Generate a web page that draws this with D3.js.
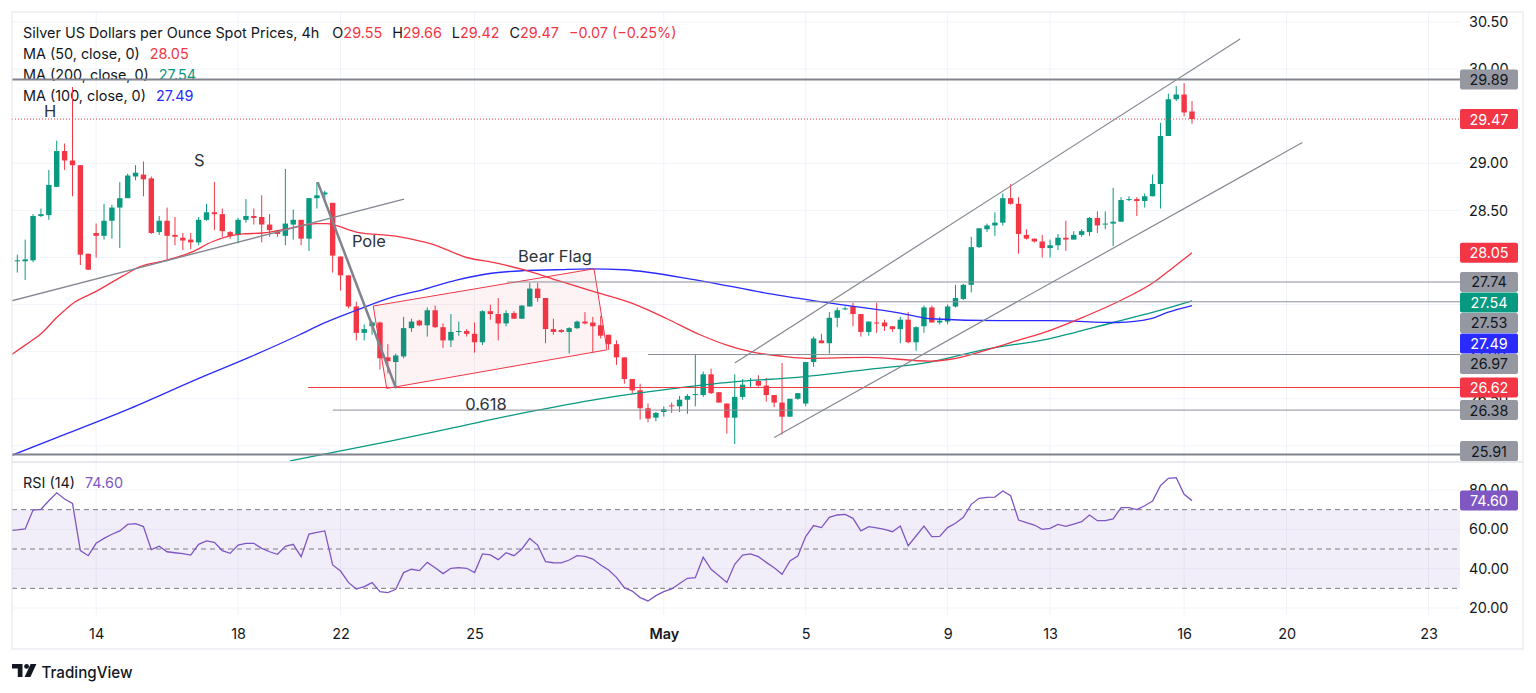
<!DOCTYPE html>
<html>
<head>
<meta charset="utf-8">
<script src="https://cdn.jsdelivr.net/npm/d3@7"></script>
<style>
  body { margin: 0; background: #fff; }
  svg { display: block; font-family: Inter, "Noto Sans", sans-serif; }
</style>
</head>
<body>
<div id="chart"></div>
<script>
// ---- data (4h bars) ----
var firstBar = -1;   // first candle is partly hidden behind the left edge

// [open, high, low, close]
var candles = [
  [28.00,28.03,27.93,27.97],
  [27.96,28.03,27.84,27.97],[27.96,28.19,27.76,27.98],[27.97,28.46,27.95,28.44],[28.44,28.52,28.43,28.46],[28.45,28.93,28.40,28.77],
  [28.75,29.24,28.75,29.13],[29.13,29.21,28.93,29.03],[29.03,29.81,28.65,28.98],[28.98,28.98,27.92,28.03],[28.04,28.04,27.87,27.87],
  [28.26,28.36,28.00,28.23],[28.23,28.57,28.19,28.39],[28.39,28.56,28.20,28.53],[28.53,28.80,28.10,28.63],[28.63,28.89,28.63,28.87],
  [28.86,28.98,28.82,28.90],[28.88,29.02,28.65,28.83],[28.84,28.86,28.25,28.26],[28.27,28.44,28.24,28.39],[28.39,28.53,27.96,28.23],
  [28.24,28.43,28.13,28.22],[28.21,28.26,28.08,28.18],[28.19,28.26,28.09,28.16],[28.16,28.43,28.13,28.40],[28.40,28.57,28.39,28.48],
  [28.48,28.80,28.29,28.46],[28.46,28.52,28.22,28.28],[28.27,28.28,28.20,28.23],[28.24,28.42,28.15,28.40],[28.40,28.62,28.37,28.44],
  [28.44,28.52,28.35,28.42],[28.43,28.66,28.16,28.35],[28.35,28.46,28.22,28.29],[28.28,28.29,28.22,28.25],[28.23,28.94,28.13,28.36],
  [28.35,28.51,28.19,28.40],[28.40,28.40,28.13,28.20],[28.20,28.63,28.07,28.63],[28.63,28.80,28.52,28.66],[28.67,28.71,28.60,28.69],
  [28.58,28.58,27.84,28.02],[28.01,28.01,27.65,27.81],[27.81,27.81,27.46,27.48],[27.48,27.53,27.12,27.20],[27.20,27.29,27.12,27.24],
  [27.27,27.32,27.18,27.31],[27.31,27.32,26.81,26.93],[26.94,27.08,26.77,26.90],[26.89,26.98,26.61,26.96],[26.95,27.37,26.93,27.25],
  [27.25,27.35,27.21,27.32],[27.33,27.34,27.27,27.28],[27.28,27.47,27.16,27.44],[27.44,27.49,27.25,27.26],[27.26,27.30,27.04,27.12],
  [27.12,27.40,27.05,27.21],[27.21,27.32,27.17,27.22],[27.22,27.24,27.16,27.19],[27.19,27.31,26.99,27.10],[27.10,27.44,27.07,27.43],
  [27.43,27.50,27.34,27.40],[27.40,27.57,27.12,27.30],[27.30,27.44,27.27,27.41],[27.41,27.43,27.35,27.35],[27.35,27.49,27.35,27.49],
  [27.48,27.73,27.48,27.67],[27.67,27.73,27.53,27.57],[27.57,27.57,27.09,27.24],[27.24,27.35,27.18,27.21],[27.23,27.24,27.20,27.21],
  [27.21,27.26,26.98,27.25],[27.25,27.33,27.24,27.32],[27.32,27.42,27.29,27.30],[27.31,27.37,26.99,27.27],[27.28,27.38,27.14,27.17],
  [27.18,27.18,27.02,27.08],[27.08,27.12,26.86,26.94],[26.94,26.94,26.66,26.71],[26.71,26.71,26.55,26.59],[26.59,26.66,26.28,26.40],
  [26.40,26.45,26.25,26.29],[26.30,26.36,26.26,26.35],[26.36,26.42,26.31,26.39],[26.43,26.46,26.35,26.42],[26.42,26.53,26.36,26.49],
  [26.49,26.55,26.34,26.53],[26.54,26.97,26.42,26.55],[26.54,26.79,26.52,26.76],[26.76,26.82,26.55,26.56],[26.57,26.57,26.46,26.46],
  [26.45,26.45,26.13,26.30],[26.30,26.76,26.02,26.52],[26.52,26.71,26.49,26.65],[26.69,26.72,26.62,26.70],[26.69,26.75,26.63,26.64],
  [26.64,26.72,26.47,26.54],[26.54,26.54,26.41,26.46],[26.46,26.88,26.12,26.31],[26.31,26.50,26.31,26.50],[26.50,26.56,26.49,26.56],
  [26.45,26.89,26.42,26.89],[26.89,27.16,26.84,27.14],[27.12,27.19,27.09,27.09],[27.09,27.42,26.98,27.36],[27.36,27.47,27.26,27.44],
  [27.45,27.48,27.44,27.46],[27.48,27.52,27.27,27.40],[27.40,27.40,27.16,27.21],[27.21,27.32,27.17,27.32],[27.31,27.52,27.20,27.30],
  [27.31,27.34,27.22,27.27],[27.27,27.27,27.21,27.24],[27.24,27.37,27.09,27.34],[27.34,27.42,27.09,27.10],[27.10,27.27,27.01,27.26],
  [27.27,27.49,27.20,27.47],[27.47,27.49,27.31,27.31],[27.31,27.37,27.29,27.33],[27.32,27.50,27.29,27.48],[27.48,27.71,27.47,27.57],
  [27.56,27.72,27.55,27.71],[27.71,28.22,27.63,28.11],[28.11,28.31,28.10,28.31],[28.30,28.36,28.27,28.34],[28.34,28.48,28.23,28.37],
  [28.37,28.68,28.34,28.63],[28.63,28.78,28.56,28.57],[28.57,28.64,28.04,28.25],[28.24,28.30,28.19,28.20],[28.20,28.20,28.16,28.17],
  [28.17,28.24,28.00,28.10],[28.10,28.19,28.00,28.13],[28.13,28.25,28.08,28.21],[28.21,28.39,28.07,28.19],[28.19,28.28,28.19,28.24],
  [28.24,28.30,28.22,28.28],[28.27,28.43,28.23,28.42],[28.42,28.49,28.26,28.34],[28.36,28.49,28.30,28.36],[28.36,28.74,28.12,28.38],
  [28.38,28.64,28.38,28.61],[28.61,28.65,28.60,28.62],[28.62,28.64,28.44,28.60],[28.60,28.68,28.53,28.65],[28.65,28.88,28.65,28.78],
  [28.78,29.43,28.52,29.29],[29.29,29.74,29.29,29.68],[29.68,29.82,29.66,29.73],[29.73,29.85,29.50,29.54],[29.55,29.66,29.42,29.47]
];

// RSI(14), one value per candle
var rsiValues = [
  59.3,
  59.7,60.2,69.8,70.2,74.5,78.6,75.4,73.2,49.2,46.6,
  52.9,55.4,57.5,59.2,62.5,62.9,61.4,49.7,51.4,48.6,
  48.1,47.6,46.9,52.4,54.1,53.4,49.2,47.8,52.0,52.9,
  52.9,50.3,48.6,47.3,51.4,52.4,46.1,57.6,58.5,59.2,
  41.9,38.8,33.0,29.6,30.9,32.9,28.3,27.8,29.5,38.0,
  39.7,39.0,43.2,40.5,37.5,40.2,40.5,40.2,38.0,47.5,
  47.0,44.6,48.1,46.6,50.0,55.4,52.0,43.6,43.0,42.9,
  44.4,46.6,46.3,44.9,41.9,39.3,35.6,30.3,28.6,25.3,
  23.6,26.3,28.3,29.7,32.5,35.1,35.4,45.8,39.7,36.4,
  33.0,42.2,46.9,47.5,46.1,43.2,40.5,37.1,43.9,46.4,
  56.3,61.9,60.9,66.1,67.3,67.6,65.6,59.2,61.4,60.7,
  60.0,58.8,61.7,51.7,56.6,61.7,56.3,56.4,60.9,63.1,
  66.1,72.7,75.8,76.3,76.4,79.5,77.1,64.7,63.4,62.2,
  60.0,60.5,62.5,61.5,62.7,63.9,67.3,64.4,64.4,65.3,
  71.0,71.0,70.0,72.0,74.4,82.2,85.9,86.3,77.8,74.6
];

// moving averages, [bar, value]
var ma50 = [[-0.7,26.97],[1,27.07],[3,27.19],[5.1,27.37],[7,27.51],[10,27.64],[13.3,27.80],[15.5,27.90],[18.9,27.97],
  [22.2,28.06],[24.8,28.17],[28.6,28.25],[31.1,28.26],[34.5,28.31],[37.9,28.36],[39.2,28.36],[43,28.27],[48.5,28.22],
  [52.7,28.14],[57,28.00],[60.8,27.94],[64.2,27.87],[68.4,27.76],[72.6,27.65],[78.1,27.51],[82.4,27.35],[86.6,27.18],
  [90,27.07],[93,27.00],[97.2,26.95],[100.2,26.93],[107.8,26.94],[115.8,26.90],[118.4,26.92],[123,27.02],[126.9,27.12],
  [131.1,27.23],[135.3,27.37],[139.6,27.53],[144.2,27.74],[146.7,27.90],[149,28.05]];
var ma100 = [[-0.7,25.90],[6.6,26.14],[13.8,26.38],[23.1,26.72],[29.4,26.94],[35.8,27.18],[38.8,27.30],[43,27.44],
  [47.2,27.57],[51.5,27.66],[55.7,27.76],[59.9,27.83],[64.2,27.86],[68.4,27.87],[72.6,27.88],[76.9,27.87],[86.2,27.76],
  [95.1,27.62],[103.6,27.51],[112,27.41],[115.8,27.35],[124.7,27.33],[131.1,27.33],[139.6,27.31],[143.8,27.35],
  [146,27.42],[149,27.49]];
var ma200 = [[34.6,25.84],[47.3,26.05],[55.7,26.20],[64.2,26.35],[73.9,26.50],[82.4,26.60],[90.8,26.68],[99.3,26.73],
  [107.7,26.81],[115.8,26.89],[122.5,27.02],[131,27.14],[139,27.31],[144.1,27.42],[149,27.54]];

// time axis
var tickBars   = [10, 28, 41, 58, 82, 100, 118, 131, 148, 161, 179];
var tickLabels = ["14", "18", "22", "25", "May", "5", "9", "13", "16", "20", "23"];
var priceTicks = [30.5, 30, 29.5, 29, 28.5, 28, 27.5, 27, 26.5, 26];
var rsiTicks = [80, 60, 40, 20];
var rsiBands = [70, 50, 30];

// drawings on the chart
var levelPrices = [29.89, 27.74, 27.53, 26.97, 26.38, 25.91];
var levelFrom   = [-1, 62.1, 100, 80, 40, -1];
var supportPrice = 26.62, supportFrom = 36.9;
var neckline = [[-0.7, 27.54], [49.05, 28.62]];
var pole = [[38.1, 28.80], [48.0, 26.62]];
var flag = [[45.15, 27.485], [73.15, 27.88], [74.8, 27.02], [46.85, 26.61]];
var channelUpper = [[91.0, 26.88], [155.1, 30.32]];
var channelLower = [[96.0, 26.09], [163.0, 29.22]];
var noteText  = ["H", "S", "Pole", "Bear Flag", "0.618"];
var noteBar   = [4.15, 23.1, 44.6, 68.2, 59.45];
var notePrice = [29.56, 29.035, 28.18, 28.02, 26.45];

var change = -0.07, changePct = -0.25;

// ---- layout ----
var W = 1536, H = 693;
var left = 12, plotRight = 1460, axisRight = 1523;
var paneTop = 12, priceBottom = 462, rsiBottom = 615, chartBottom = 649;

var up = "#089981", down = "#f23645", blue = "#2a2aff", purple = "#7e57c2";
var textCol = "#131722", gridCol = "#f0f3fa", drawCol = "#868993";
var fontSize = 14.4;

var x = d3.scaleLinear().domain([0, 149]).range([17.3, 1192]);
var y = d3.scaleLinear().domain([26, 30.5]).range([445.9, 22]);
var yR = d3.scaleLinear().domain([20, 80]).range([608, 490]);

var bar = function(i) { return firstBar + i; };
var fmt = d3.format(".2f");

var svg = d3.select("#chart").append("svg")
    .attr("width", W)
    .attr("height", H);

svg.append("rect").attr("width", W).attr("height", H).attr("fill", "#fff");

var defs = svg.append("defs");
defs.append("clipPath").attr("id", "clipPrice").append("rect")
    .attr("x", left).attr("y", paneTop).attr("width", plotRight - left).attr("height", priceBottom - paneTop);
defs.append("clipPath").attr("id", "clipRsi").append("rect")
    .attr("x", left).attr("y", priceBottom).attr("width", plotRight - left).attr("height", rsiBottom - priceBottom);

// grid
var grid = svg.append("g").attr("stroke", gridCol).attr("stroke-width", 1);
grid.selectAll("line.v").data(tickBars).join("line")
    .attr("x1", function(d) { return x(d); }).attr("x2", function(d) { return x(d); })
    .attr("y1", paneTop).attr("y2", rsiBottom);
grid.selectAll("line.p").data(priceTicks).join("line")
    .attr("x1", left).attr("x2", plotRight)
    .attr("y1", function(d) { return y(d); }).attr("y2", function(d) { return y(d); });
grid.selectAll("line.r").data(rsiTicks).join("line")
    .attr("x1", left).attr("x2", plotRight)
    .attr("y1", function(d) { return yR(d); }).attr("y2", function(d) { return yR(d); });

// legend (sits under the series, like the reference)
var last = candles[candles.length - 1];
var legend = svg.append("g").attr("font-size", fontSize).attr("fill", textCol);
var head = legend.append("text").attr("x", 23).attr("y", 32.3).attr("dominant-baseline", "central");
head.append("tspan").text("Silver US Dollars per Ounce Spot Prices, 4h");
["O", "H", "L", "C"].forEach(function(k, i) {
    head.append("tspan").attr("dx", i === 0 ? 13 : 10).text(k);
    head.append("tspan").attr("fill", down).text(fmt(last[i]));
});
head.append("tspan").attr("dx", 10).attr("fill", down)
    .text("\u2212" + fmt(Math.abs(change)) + " (\u2212" + fmt(Math.abs(changePct)) + "%)");

var maRows = [
  {label: "MA (50, close, 0)", v: ma50[ma50.length - 1][1], c: down},
  {label: "MA (200, close, 0)", v: ma200[ma200.length - 1][1], c: up},
  {label: "MA (100, close, 0)", v: ma100[ma100.length - 1][1], c: blue}
];
maRows.forEach(function(r, i) {
    var t = legend.append("text").attr("x", 23).attr("y", 52.7 + i * 21.3).attr("dominant-baseline", "central");
    t.append("tspan").text(r.label);
    t.append("tspan").attr("dx", 10).attr("fill", r.c).text(fmt(r.v));
});
var rsiLegend = legend.append("text").attr("x", 23).attr("y", 482).attr("dominant-baseline", "central");
rsiLegend.append("tspan").text("RSI (14)");
rsiLegend.append("tspan").attr("dx", 10).attr("fill", purple).text(fmt(rsiValues[rsiValues.length - 1]));

// ---- price pane ----
var pane = svg.append("g").attr("clip-path", "url(#clipPrice)");

// candles
var cg = pane.append("g");
cg.selectAll("line").data(candles).join("line")
    .attr("x1", function(d, i) { return x(bar(i)); })
    .attr("x2", function(d, i) { return x(bar(i)); })
    .attr("y1", function(d) { return y(d[1]); })
    .attr("y2", function(d) { return y(d[2]); })
    .attr("stroke", function(d) { return d[3] >= d[0] ? up : down; })
    .attr("stroke-width", 1);
var bw = 5.4;
cg.selectAll("rect").data(candles).join("rect")
    .attr("x", function(d, i) { return x(bar(i)) - bw / 2; })
    .attr("width", bw)
    .attr("y", function(d) { return y(Math.max(d[0], d[3])); })
    .attr("height", function(d) { return Math.max(1, Math.abs(y(d[0]) - y(d[3]))); })
    .attr("fill", function(d) { return d[3] >= d[0] ? up : down; });

// moving averages
var maLine = d3.line()
    .x(function(d) { return x(d[0]); })
    .y(function(d) { return y(d[1]); })
    .curve(d3.curveMonotoneX);
[[ma200, up], [ma100, blue], [ma50, down]].forEach(function(m) {
    pane.append("path").datum(m[0])
        .attr("d", maLine)
        .attr("fill", "none")
        .attr("stroke", m[1])
        .attr("stroke-width", 1.3);
});

// drawings
var segLine = d3.line()
    .x(function(d) { return x(d[0]); })
    .y(function(d) { return y(d[1]); });

pane.append("path").datum(flag)
    .attr("d", function(d) { return segLine(d) + "Z"; })
    .attr("fill", "rgba(242,54,69,0.06)")
    .attr("stroke", down)
    .attr("stroke-width", 1);

levelPrices.forEach(function(p, i) {
    var full = levelFrom[i] < 0;
    pane.append("line")
        .attr("x1", full ? left : x(levelFrom[i])).attr("x2", plotRight)
        .attr("y1", y(p)).attr("y2", y(p))
        .attr("stroke", full ? "#80838d" : "#8c8f99")
        .attr("stroke-width", full ? 2 : 1);
});
pane.append("line")
    .attr("x1", x(supportFrom)).attr("x2", plotRight)
    .attr("y1", y(supportPrice)).attr("y2", y(supportPrice))
    .attr("stroke", down).attr("stroke-width", 1);

pane.append("line")
    .attr("x1", left).attr("x2", plotRight)
    .attr("y1", y(last[3])).attr("y2", y(last[3]))
    .attr("stroke", down).attr("stroke-width", 1)
    .attr("stroke-dasharray", "1,2");

pane.append("path").datum(neckline).attr("d", segLine)
    .attr("stroke", drawCol).attr("stroke-width", 1.4).attr("fill", "none");
pane.append("path").datum(pole).attr("d", segLine)
    .attr("stroke", "#80838d").attr("stroke-width", 2.5).attr("fill", "none");
[channelUpper, channelLower].forEach(function(c) {
    pane.append("path").datum(c).attr("d", segLine)
        .attr("stroke", drawCol).attr("stroke-width", 1.2).attr("fill", "none");
});

pane.selectAll("text.note").data(noteText).join("text")
    .attr("class", "note")
    .attr("x", function(d, i) { return x(noteBar[i]); })
    .attr("y", function(d, i) { return y(notePrice[i]); })
    .attr("text-anchor", "middle")
    .attr("dominant-baseline", "central")
    .attr("font-size", 16.5)
    .attr("fill", "#2e3238")
    .text(function(d) { return d; });

// ---- RSI pane ----
var rp = svg.append("g").attr("clip-path", "url(#clipRsi)");
rp.append("rect")
    .attr("x", left).attr("width", plotRight - left)
    .attr("y", yR(rsiBands[0])).attr("height", yR(rsiBands[2]) - yR(rsiBands[0]))
    .attr("fill", "rgba(126,87,194,0.1)");
rp.selectAll("line.band").data(rsiBands).join("line")
    .attr("x1", left).attr("x2", plotRight)
    .attr("y1", function(d) { return yR(d); }).attr("y2", function(d) { return yR(d); })
    .attr("stroke", "#787b86").attr("stroke-width", 1).attr("stroke-dasharray", "5,4");
rp.append("path").datum(rsiValues)
    .attr("d", d3.line()
        .x(function(d, i) { return x(bar(i)); })
        .y(function(d) { return yR(d); }))
    .attr("fill", "none").attr("stroke", purple).attr("stroke-width", 1.3);

// ---- borders ----
var frame = svg.append("g").attr("fill", "none").attr("stroke", "#e0e3eb");
frame.append("rect").attr("x", left).attr("y", paneTop)
    .attr("width", axisRight - left).attr("height", chartBottom - paneTop);
frame.append("line").attr("x1", left).attr("x2", axisRight)
    .attr("y1", priceBottom).attr("y2", priceBottom).attr("stroke-width", 1.5);

// ---- price labels on the right axis, stacked so they don't overlap ----
var gray = "#9598a1";
var boxes = [];
levelPrices.forEach(function(p) { boxes.push({v: p, fill: gray, text: textCol}); });
boxes.push({v: supportPrice, fill: down, text: "#fff"});
boxes.push({v: last[3], fill: down, text: "#fff"});
boxes.push({v: ma50[ma50.length - 1][1], fill: down, text: "#fff"});
boxes.push({v: ma200[ma200.length - 1][1], fill: up, text: "#fff"});
boxes.push({v: ma100[ma100.length - 1][1], fill: blue, text: "#fff"});
boxes.sort(function(a, b) { return b.v - a.v; });
var boxH = 20.5;
boxes.forEach(function(b, i) {
    b.y = y(b.v);
    if (i > 0) b.y = Math.max(b.y, boxes[i - 1].y + boxH);
    b.y = Math.min(b.y, priceBottom - 11);
});
var rsiLast = rsiValues[rsiValues.length - 1];

// tick labels that sit fully under a box are left out (the box hides them anyway)
function hidden(py, list) {
    return list.some(function(b) { return Math.abs(b - py) < 8; });
}
var boxYs = boxes.map(function(b) { return b.y; });

function styleAxis(g) {
    g.select(".domain").remove();
    g.attr("font-family", null).attr("font-size", fontSize);
    g.selectAll("text").attr("fill", textCol);
}
svg.append("g").attr("transform", "translate(" + plotRight + ",0)")
    .call(d3.axisRight(y).tickValues(priceTicks.filter(function(t) { return !hidden(y(t), boxYs); }))
        .tickFormat(fmt).tickSize(0).tickPadding(9))
    .call(styleAxis);
svg.append("g").attr("transform", "translate(" + plotRight + ",0)")
    .call(d3.axisRight(yR).tickValues(rsiTicks.filter(function(t) { return !hidden(yR(t), [yR(rsiLast)]); }))
        .tickFormat(fmt).tickSize(0).tickPadding(9))
    .call(styleAxis);
svg.append("g").attr("transform", "translate(0," + rsiBottom + ")")
    .call(d3.axisBottom(x).tickValues(tickBars).tickFormat(function(d, i) { return tickLabels[i]; })
        .tickSize(0).tickPadding(14))
    .call(styleAxis)
    .selectAll("text").attr("font-weight", function(d, i) { return tickLabels[i] === "May" ? 600 : 400; });

var bl = svg.append("g");
bl.selectAll("rect").data(boxes).join("rect")
    .attr("x", plotRight).attr("width", 58)
    .attr("y", function(d) { return d.y - 10; }).attr("height", 20)
    .attr("rx", 2).attr("fill", function(d) { return d.fill; });
bl.selectAll("text").data(boxes).join("text")
    .attr("x", plotRight + 29).attr("y", function(d) { return d.y; })
    .attr("text-anchor", "middle").attr("dominant-baseline", "central")
    .attr("font-size", fontSize).attr("fill", function(d) { return d.text; })
    .text(function(d) { return fmt(d.v); });

bl.append("rect").attr("x", plotRight).attr("width", 58)
    .attr("y", yR(rsiLast) - 10).attr("height", 20).attr("rx", 2).attr("fill", purple);
bl.append("text").attr("x", plotRight + 29).attr("y", yR(rsiLast))
    .attr("text-anchor", "middle").attr("dominant-baseline", "central")
    .attr("font-size", fontSize).attr("fill", "#fff").text(fmt(rsiLast));

// ---- TradingView mark ----
var logo = svg.append("g").attr("fill", textCol);
logo.append("path").attr("d", "M12,664H22.5V677H17.8V668.6H12Z");
logo.append("circle").attr("cx", 26.6).attr("cy", 666.4).attr("r", 2.4);
logo.append("path").attr("d", "M30.6,664H36.4L30.4,677H24.6Z");
logo.append("text").attr("x", 41.5).attr("y", 677.5)
    .attr("font-size", 16.5).attr("font-weight", 500)
    .attr("textLength", 91).attr("lengthAdjust", "spacingAndGlyphs")
    .text("TradingView");
</script>
</body>
</html>
